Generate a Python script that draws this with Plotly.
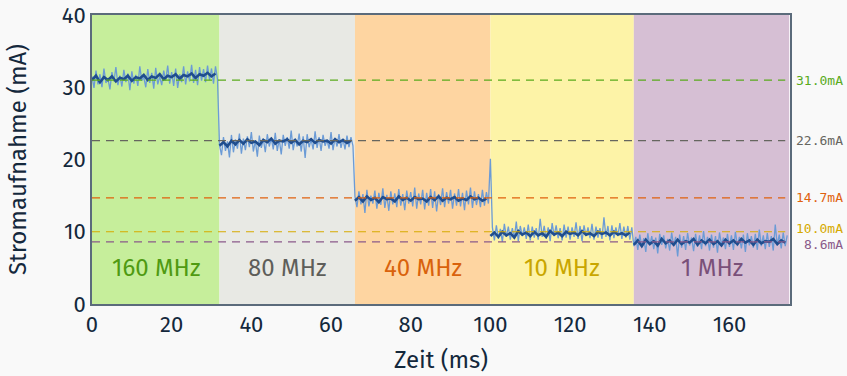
import numpy as np
import plotly.graph_objects as go

# Frequency regions (ms)
region_labels = ["160 MHz", "80 MHz", "40 MHz", "10 MHz", "1 MHz"]
region_bounds = [0, 32, 66, 100, 136, 175]
region_fill = ["#c6ee9b", "#e8e9e4", "#fed5a1", "#fdf3a7", "#d6bfd4"]
region_text = ["#4f9a12", "#5e5e5a", "#d9620c", "#c9a600", "#7a5079"]

# Mean current per frequency (mA)
mean_values = [31.0, 22.6, 14.7, 10.0, 8.6]
mean_labels = ["31.0mA", "22.6mA", "14.7mA", "10.0mA", "8.6mA"]
mean_colors = ["#5aab1c", "#66665f", "#e0620e", "#d6aa00", "#8a5a8a"]

# Raw measured current per segment (mA)
A_light = [31.5,29.9,32.3,30.4,31.8,30.0,32.6,30.6,31.2,29.7,32.1,30.8,32.8,30.3,31.6,30.1,32.4,30.7,31.9,29.6,32.2,30.5,31.7,30.2,32.9,30.9,31.4,30.0,32.5,30.6,32.0,29.8,32.7,30.4,31.5,30.3,32.3,30.9,33.0,30.5,32.1,30.2,32.6,29.9,31.8,30.7,32.9,30.4,32.2,30.8,33.1,30.6,32.4,30.3,32.8,30.9,32.5,30.7,33.0,31.0,32.6,30.5,32.9,31.1]
B_light = [22.0,20.6,23.1,21.2,22.5,20.3,23.4,21.0,22.8,21.5,23.6,20.8,22.9,21.3,23.2,21.7,23.8,21.1,22.6,20.4,23.3,21.6,22.9,21.0,23.5,21.8,23.0,21.4,23.7,21.2,22.8,20.7,23.4,21.9,23.1,21.5,24.0,21.3,22.9,21.8,23.6,21.1,23.2,20.2,23.5,21.7,22.8,21.4,23.9,21.6,23.1,21.2,23.4,21.9,22.7,21.5,23.8,21.3,23.0,21.8,23.5,21.6,22.9,21.4,23.3,21.7,23.1,21.9]
C_light = [14.9,13.4,15.6,13.8,15.2,12.6,15.8,13.5,15.0,13.9,15.7,13.2,15.4,13.7,16.0,13.3,15.1,12.9,15.6,13.8,15.3,13.4,15.9,13.6,15.2,13.0,15.7,13.9,15.5,13.5,16.1,13.2,15.3,13.8,15.8,13.1,15.4,13.6,15.9,13.3,15.6,12.8,15.2,13.7,16.0,13.4,15.5,13.9,15.8,13.2,15.3,13.6,15.9,13.5,15.4,13.0,15.7,13.8,16.1,13.3,15.6,13.7,15.2,13.4,15.8,13.6,15.5,13.9]
D_light = [20.1,10.6,8.8,10.9,9.0,10.4,8.6,11.1,9.3,10.7,8.9,10.5,9.1,11.4,8.7,10.8,9.4,10.6,9.0,11.0,8.8,10.7,9.2,10.5,8.9,11.8,9.3,10.8,9.0,10.6,8.7,11.2,9.4,10.9,9.1,10.5,8.8,11.0,9.2,10.7,8.9,10.6,9.3,11.3,9.0,10.8,8.7,10.9,9.4,10.6,9.1,11.1,8.9,10.7,9.2,10.5,9.0,12.0,9.3,10.8,8.8,10.9,9.1,10.6,9.4,11.2,9.0,10.7,9.2,10.8,8.9,10.6]
E_light = [8.0,9.3,7.5,9.6,7.9,9.1,7.2,9.8,8.1,9.4,7.6,9.2,7.0,9.7,8.2,9.5,7.7,9.0,7.4,9.9,8.0,9.3,6.6,9.6,7.8,9.4,7.5,9.8,8.1,9.2,7.3,9.7,7.9,9.5,7.6,10.1,8.0,9.3,7.4,9.6,7.8,9.4,7.1,9.9,8.2,9.2,7.6,9.7,7.9,9.5,7.5,10.0,8.0,9.3,7.7,9.6,7.2,9.8,8.1,9.4,7.8,9.7,7.5,10.3,8.0,9.5,7.6,9.8,7.9,9.4,7.4,11.0,8.1,9.6,7.7,9.9,8.0,9.5]

# Smoothed current per segment (mA)
A_dark = [31.0,31.6,30.7,31.4,31.0,31.5,30.8,31.3,31.1,31.6,30.9,31.4,31.2,31.7,31.0,31.5,31.3,31.8,31.1,31.6,31.4,31.8,31.2,31.7,31.5,31.9,31.3,31.8,31.6,32.0,31.5,31.9]
B_dark = [21.9,22.4,21.8,22.6,22.1,22.7,22.2,22.8,22.3,22.5,22.0,22.7,22.4,22.9,22.2,22.6,22.5,22.8,22.3,22.7,22.1,22.6,22.4,22.8,22.3,22.7,22.5,22.6,22.2,22.8,22.4,22.7,22.3,22.6]
C_dark = [14.3,14.8,14.2,14.9,14.4,14.7,14.1,14.8,14.5,14.6,14.2,14.9,14.4,14.7,14.3,14.8,14.5,14.6,14.2,14.8,14.4,14.9,14.3,14.7,14.5,14.8,14.3,14.6,14.4,14.9,14.5,14.7,14.3,14.6]
D_dark = [9.4,9.9,9.3,10.0,9.5,9.8,9.2,10.1,9.6,9.9,9.4,10.0,9.5,9.8,9.3,10.1,9.6,9.9,9.4,10.0,9.7,9.9,9.5,10.1,9.6,9.8,9.4,10.0,9.7,9.9,9.5,10.0,9.6,9.8,9.5,9.9]
E_dark = [8.2,8.8,8.0,8.9,8.3,8.7,8.1,9.0,8.4,8.8,8.2,8.9,8.3,8.7,8.5,9.0,8.2,8.8,8.4,8.9,8.3,8.7,8.1,8.9,8.4,8.8,8.3,9.0,8.5,8.8,8.2,8.9,8.4,8.7,8.6,9.0,8.3,8.8,8.5]

light_segments = [A_light, B_light, C_light, D_light, E_light]
dark_segments = [A_dark, B_dark, C_dark, D_dark, E_dark]

x_ticks = [0, 20, 40, 60, 80, 100, 120, 140, 160]
y_ticks = [0, 10, 20, 30, 40]

def build(segments, gaps=False):
    xs, ys = [], []
    for i, seg in enumerate(segments):
        a, b = region_bounds[i], region_bounds[i + 1]
        xs.extend(np.linspace(a, b, len(seg), endpoint=False).tolist())
        ys.extend(seg)
        if gaps:
            xs.append(None)
            ys.append(None)
    return xs, ys

lx, ly = build(light_segments)
dx, dy = build(dark_segments, gaps=True)

FONT = "Fira Sans, Lato, sans-serif"
TXT = "#14283c"

fig = go.Figure()
fig.add_trace(go.Scatter(x=lx, y=ly, mode="lines",
                         line=dict(color="#6b9bd6", width=1.3), showlegend=False))
fig.add_trace(go.Scatter(x=dx, y=dy, mode="lines", connectgaps=False,
                         line=dict(color="#1f4d8e", width=2.6), showlegend=False))

shapes = []
for i in range(5):
    shapes.append(dict(type="rect", xref="x", yref="paper",
                       x0=region_bounds[i], x1=region_bounds[i + 1], y0=0, y1=1,
                       fillcolor=region_fill[i], line=dict(width=0), layer="below"))
for v, c in zip(mean_values, mean_colors):
    shapes.append(dict(type="line", xref="x", yref="y", x0=0, x1=174, y0=v, y1=v,
                       line=dict(color=c, width=1.2, dash="8px,6px"), layer="above"))

annotations = []
for i in range(5):
    annotations.append(dict(x=(region_bounds[i] + region_bounds[i + 1]) / 2, y=5.0,
                            xref="x", yref="y", text=region_labels[i], showarrow=False,
                            font=dict(family=FONT, size=24, color=region_text[i])))
label_y = [31.0, 22.6, 14.7, 10.4, 8.3]
for v, t, c in zip(label_y, mean_labels, mean_colors):
    annotations.append(dict(x=1.079, y=v, xref="paper", yref="y", text=t,
                            xanchor="right", showarrow=False,
                            font=dict(family="DejaVu Sans Mono", size=13, color=c)))

fig.update_layout(
    width=847, height=376,
    margin=dict(l=92, r=57, t=15, b=72),
    paper_bgcolor="#f9f9f9", plot_bgcolor="#ffffff",
    shapes=shapes, annotations=annotations,
    font=dict(family=FONT, color=TXT),
    xaxis=dict(range=[0, 175.2], tickvals=x_ticks, showgrid=False, zeroline=False,
               showline=True, linecolor="#5b6b7b", linewidth=1.5, mirror=True,
               tickfont=dict(size=22, color=TXT), ticks="", automargin=False,
               title=dict(text="Zeit (ms)", font=dict(size=24, color=TXT), standoff=14)),
    yaxis=dict(range=[0, 40], tickvals=y_ticks, showgrid=False, zeroline=False,
               showline=True, linecolor="#5b6b7b", linewidth=1.5, mirror=True,
               tickfont=dict(size=22, color=TXT), ticks="", automargin=False,
               title=dict(text="Stromaufnahme (mA)", font=dict(size=24, color=TXT), standoff=28)),
)
fig.write_html("out.html")
